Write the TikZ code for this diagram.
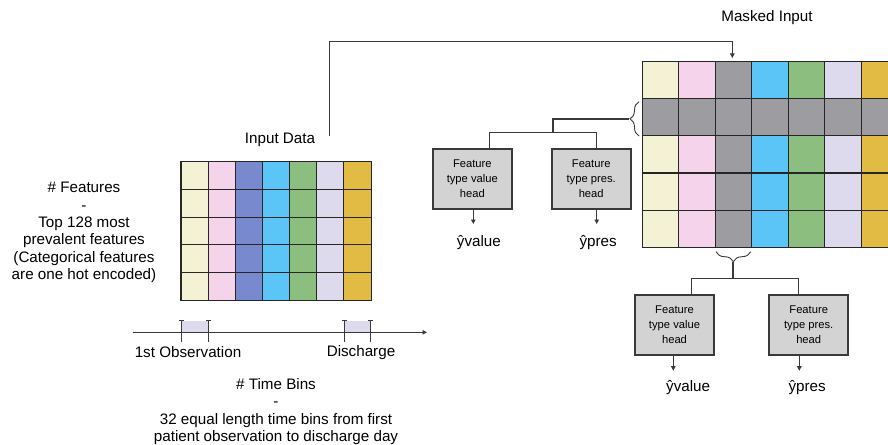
\documentclass[tikz,border=0pt]{standalone}
\usepackage{fontspec}
\setmainfont{Liberation Sans}
\usetikzlibrary{arrows.meta,decorations.pathreplacing}
\definecolor{cCream}{HTML}{F4F2D5}
\definecolor{cPink}{HTML}{F4D3EB}
\definecolor{cBlue}{HTML}{7889CD}
\definecolor{cSky}{HTML}{5BC5F7}
\definecolor{cGreen}{HTML}{8CBE80}
\definecolor{cLav}{HTML}{DCDAEC}
\definecolor{cGold}{HTML}{E1BB44}
\definecolor{cMask}{HTML}{9C9CA1}
\definecolor{cHead}{HTML}{D3D3D3}
\definecolor{cLine}{HTML}{3A3A3A}

\begin{document}
\begin{tikzpicture}[x=1pt,y=1pt,yscale=-1,
    cell/.style={draw=black!85,line width=1.1pt},
    head/.style={draw=cLine,line width=1.8pt,fill=cHead,minimum width=79pt,minimum height=60pt,
        align=center,inner sep=1pt,font=\fontsize{11.2}{14.7}\selectfont},
    link/.style={draw=cLine,line width=0.9pt},
    tip/.style={link,-{Triangle[length=4.5pt,width=4.5pt]}},
    txt/.style={align=center,font=\fontsize{15.2}{17.3}\selectfont},
    lbl/.style={anchor=base west,inner sep=0pt,font=\fontsize{15.2}{17.3}\selectfont}]
\useasboundingbox (0,0) rectangle (888,444);
\clip (0,0) rectangle (888,444);

% input grid
\foreach \c/\col in {0/cCream,1/cPink,2/cBlue,3/cSky,4/cGreen,5/cLav,6/cGold}
    \foreach \r in {0,...,4}
        \draw[cell,fill=\col] (181+27.15*\c,161.7+27.7*\r) rectangle ++(27.15,27.7);

% masked grid
\foreach \c/\col in {0/cCream,1/cPink,2/cMask,3/cSky,4/cGreen,5/cLav,6/cGold}
    \foreach \r in {0,...,4}
        \draw[cell,fill=\col] (642.3+36.5*\c,61.7+37.1*\r) rectangle ++(36.5,37.1);
\foreach \c in {0,...,6}
    \draw[cell,fill=cMask] (642.3+36.5*\c,98.8) rectangle ++(36.5,37.1);

% texts
\node[txt] (inLbl) at (280,140) {Input Data};
\node[txt] (maskLbl) at (767,18) {Masked Input};
\node[txt] (featLbl) at (84,232.5) {\# Features\\-\\Top 128 most\\prevalent features\\(Categorical features\\are one hot encoded)};
\node[txt] (binLbl) at (276,411.5) {\# Time Bins\\-\\32 equal length time bins from first\\patient observation to discharge day};

% input -> masked
\coordinate (inTop) at (329,136);
\coordinate (maskTop) at (732.3,58);
\draw[tip] (inTop) |- (maskTop |- 0,41.7) -- (maskTop);

% time axis
\coordinate (axL) at (132.7,332.3);
\coordinate (axR) at (427,332.3);
\draw[tip] (axL) -- (axR);
\foreach \x in {181.7,344} {
    \fill[cLav] (\x,320.7) rectangle ++(26.8,11.6);
    \draw[link] (\x,320.7) -- ++(0,21) (\x-2.5,320.7) -- ++(5,0);
    \draw[link] (\x+26.8,320.7) -- ++(0,21) (\x+24.3,320.7) -- ++(5,0);
}
\node[txt] (obsLbl) at (188,352.5) {1st Observation};
\node[txt] (disLbl) at (361,352.5) {Discharge};

% heads for masked row
\node[head] (valL) at (472.3,178.8) {Feature\\type value\\head};
\node[head] (presL) at (591.2,178.8) {Feature\\type pres.\\head};
\draw[link,decorate,decoration={brace,amplitude=9pt}] (639,136) -- (639,101.7);
\coordinate (brL) at (629,118.9);
\coordinate (jL) at (553,118.9);
\draw[link,line width=2pt] (brL) -- (jL) -- ++(0,13.8) coordinate (kL);
\draw[link] ([xshift=17pt]valL.north) |- (kL) -| ([xshift=5pt]presL.north);
\coordinate (yvL) at (473.3,224);
\coordinate (ypL) at (596.7,224);
\draw[tip] (valL.south -| yvL) -- (yvL);
\draw[tip] (presL.south -| ypL) -- (ypL);
\node[lbl] (yvalL) at (456.7,246.7) {ŷvalue};
\node[lbl] (ypresL) at (579.3,246.7) {ŷpres};

% heads for masked column
\node[head] (valB) at (674.5,324.7) {Feature\\type value\\head};
\node[head] (presB) at (808.7,324.7) {Feature\\type pres.\\head};
\draw[link,decorate,decoration={brace,amplitude=10pt}] (750.7,251.7) -- (716,251.7);
\coordinate (brB) at (733.4,262);
\draw[link,line width=2pt] (brB) -- (733.4,278.5) coordinate (kB);
\draw[link] ([xshift=17pt]valB.north) |- (kB) -| ([xshift=-10pt]presB.north);
\coordinate (yvB) at (673.3,370.7);
\coordinate (ypB) at (799.3,370.7);
\draw[tip] (valB.south -| yvB) -- (yvB);
\draw[tip] (presB.south -| ypB) -- (ypB);
\node[lbl] (yvalB) at (666,391.7) {ŷvalue};
\node[lbl] (ypresB) at (788.3,391.7) {ŷpres};
\end{tikzpicture}
\end{document}
